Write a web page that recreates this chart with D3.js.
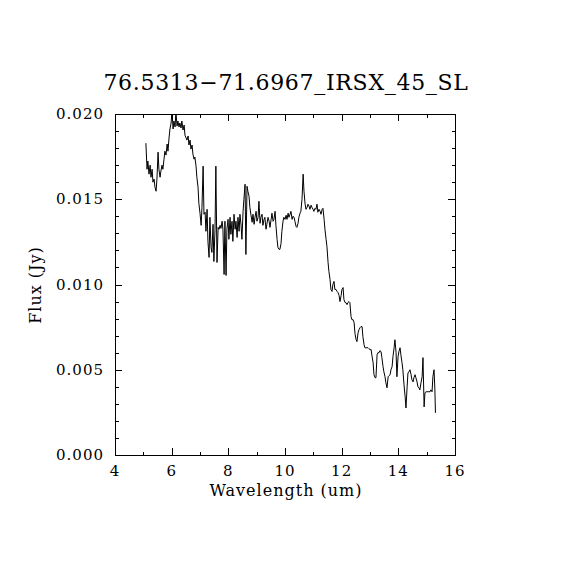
<!DOCTYPE html>
<html>
<head>
<meta charset="utf-8">
<script src="https://cdn.jsdelivr.net/npm/d3@7"></script>
<style>
  html, body { margin: 0; padding: 0; background: #fff; }
  text { font-family: "DejaVu Serif", "Liberation Serif", serif; fill: #000; }
</style>
</head>
<body>
<svg id="chart" width="570" height="570"></svg>
<script>
const title = "76.5313\u221271.6967_IRSX_45_SL";
const xLabel = "Wavelength (um)";
const yLabel = "Flux (Jy)";
const xTicks = [4, 6, 8, 10, 12, 14, 16];
const yTicks = [0.000, 0.005, 0.010, 0.015, 0.020];

const wavelength = [
5.09,5.13,5.16,5.20,5.24,5.27,5.31,5.34,5.38,5.41,5.45,5.48,5.52,5.55,5.59,5.62,5.66,5.69,5.73,5.76,
5.80,5.84,5.87,5.91,5.94,5.98,6.01,6.05,6.08,6.12,6.15,6.19,6.22,6.26,6.29,6.33,6.36,6.40,6.44,6.47,
6.51,6.54,6.58,6.61,6.65,6.68,6.72,6.75,6.79,6.82,6.86,6.89,6.93,6.96,7.00,7.04,7.07,7.11,7.14,7.18,
7.21,7.25,7.28,7.32,7.35,7.39,7.42,7.46,7.49,7.53,7.56,7.60,7.64,7.67,7.71,7.74,7.78,7.81,7.85,7.88,
7.92,7.95,7.99,8.02,8.06,8.09,8.13,8.16,8.20,8.24,8.27,8.31,8.34,8.38,8.41,8.45,8.48,8.52,8.55,8.59,
8.62,8.66,8.69,8.73,8.76,8.80,8.84,8.87,8.91,8.94,8.98,9.01,9.05,9.08,9.12,9.15,9.19,9.22,9.26,9.29,
9.33,9.36,9.40,9.44,9.47,9.51,9.54,9.58,9.61,9.65,9.68,9.72,9.75,9.79,9.82,9.86,9.89,9.93,9.96,10.00,
10.04,10.07,10.11,10.14,10.18,10.21,10.25,10.28,10.32,10.35,10.39,10.42,10.46,10.49,10.53,10.56,10.60,10.64,10.67,10.71,
10.74,10.78,10.81,10.85,10.88,10.92,10.95,10.99,11.02,11.06,11.09,11.13,11.16,11.20,11.24,11.27,11.31,11.34,11.38,11.41,
11.45,11.48,11.52,11.55,11.59,11.62,11.66,11.69,11.73,11.76,11.80,11.84,11.87,11.91,11.94,11.98,12.01,12.05,12.08,12.12,
12.15,12.19,12.22,12.26,12.29,12.33,12.36,12.40,12.44,12.47,12.51,12.54,12.58,12.61,12.65,12.68,12.72,12.75,12.79,12.82,
12.86,12.89,12.93,12.96,13.00,13.04,13.07,13.11,13.14,13.18,13.21,13.25,13.28,13.32,13.35,13.39,13.42,13.46,13.49,13.53,
13.56,13.60,13.64,13.67,13.71,13.74,13.78,13.81,13.85,13.88,13.92,13.95,13.99,14.02,14.06,14.09,14.13,14.16,14.20,14.24,
14.27,14.31,14.34,14.38,14.41,14.45,14.48,14.52,14.55,14.59,14.62,14.66,14.69,14.73,14.76,14.80,14.84,14.87,14.91,14.94,
14.98,15.01,15.05,15.08,15.12,15.15,15.19,15.22,15.26,15.29,15.31
];

const flux = [
0.01829,0.01676,0.01724,0.01647,0.01700,0.01629,0.01676,0.01600,0.01618,0.01571,0.01547,0.01618,0.01776,0.01676,0.01629,0.01665,0.01700,0.01676,0.01735,0.01782,
0.01759,0.01824,0.01782,0.01865,0.01912,0.01947,0.02018,0.01912,0.01959,0.01924,0.02012,0.01929,0.01959,0.01924,0.01947,0.01918,0.01959,0.01906,0.01935,0.01876,
0.01859,0.01847,0.01871,0.01818,0.01847,0.01794,0.01818,0.01765,0.01735,0.01747,0.01694,0.01629,0.01571,0.01476,0.01418,0.01347,0.01453,0.01694,0.01412,0.01424,
0.01312,0.01441,0.01253,0.01159,0.01394,0.01218,0.01188,0.01353,0.01135,0.01324,0.01694,0.01129,0.01335,0.01324,0.01347,0.01329,0.01371,0.01324,0.01059,0.01371,
0.01053,0.01324,0.01382,0.01265,0.01394,0.01294,0.01371,0.01253,0.01412,0.01324,0.01371,0.01276,0.01394,0.01312,0.01412,0.01347,0.01265,0.01429,0.01500,0.01588,
0.01176,0.01576,0.01547,0.01518,0.01453,0.01406,0.01365,0.01412,0.01353,0.01394,0.01429,0.01371,0.01394,0.01488,0.01359,0.01394,0.01412,0.01347,0.01382,0.01394,
0.01324,0.01353,0.01394,0.01371,0.01335,0.01382,0.01418,0.01371,0.01382,0.01429,0.01347,0.01265,0.01218,0.01206,0.01206,0.01241,0.01312,0.01371,0.01394,0.01382,
0.01406,0.01382,0.01418,0.01394,0.01412,0.01429,0.01382,0.01400,0.01394,0.01371,0.01341,0.01335,0.01359,0.01394,0.01418,0.01429,0.01500,0.01647,0.01547,0.01471,
0.01441,0.01453,0.01471,0.01459,0.01441,0.01465,0.01453,0.01441,0.01429,0.01447,0.01441,0.01471,0.01424,0.01441,0.01429,0.01412,0.01441,0.01447,0.01382,0.01324,
0.01265,0.01224,0.01129,0.01076,0.01029,0.00971,0.00959,0.01000,0.01018,0.00971,0.00971,0.00959,0.00953,0.00935,0.00900,0.00935,0.00971,0.00982,0.00912,0.00894,
0.00894,0.00882,0.00894,0.00900,0.00894,0.00812,0.00794,0.00794,0.00776,0.00712,0.00676,0.00665,0.00718,0.00735,0.00747,0.00753,0.00753,0.00694,0.00647,0.00629,
0.00629,0.00629,0.00629,0.00624,0.00618,0.00618,0.00582,0.00541,0.00471,0.00453,0.00453,0.00588,0.00600,0.00600,0.00612,0.00606,0.00571,0.00518,0.00488,0.00459,
0.00424,0.00394,0.00459,0.00465,0.00471,0.00500,0.00518,0.00576,0.00629,0.00676,0.00600,0.00459,0.00576,0.00606,0.00629,0.00588,0.00541,0.00500,0.00412,0.00341,
0.00276,0.00400,0.00482,0.00488,0.00500,0.00471,0.00441,0.00429,0.00453,0.00471,0.00453,0.00429,0.00400,0.00394,0.00382,0.00424,0.00459,0.00571,0.00282,0.00365,
0.00371,0.00371,0.00371,0.00371,0.00371,0.00382,0.00371,0.00459,0.00500,0.00382,0.00247
];

const W = 570, H = 570;
const mLeft = 115, mRight = 455, mTop = 114, mBottom = 455;

const svg = d3.select("#chart");
svg.append("rect").attr("width", W).attr("height", H).attr("fill", "#fff");

const x = d3.scaleLinear().domain([4, 16]).range([mLeft, mRight]);
const y = d3.scaleLinear().domain([0, 0.020]).range([mBottom, mTop]);

svg.append("defs").append("clipPath").attr("id", "clip")
  .append("rect").attr("x", mLeft).attr("y", mTop).attr("width", mRight - mLeft).attr("height", mBottom - mTop);

const pts = wavelength.map((w, i) => [w, flux[i]]);
const line = d3.line().x(d => x(d[0])).y(d => y(d[1]));
svg.append("path")
  .attr("d", line(pts))
  .attr("fill", "none")
  .attr("stroke", "#000")
  .attr("stroke-width", 1)
  .attr("clip-path", "url(#clip)");

const tickLen = 7, minorLen = 3.5;
const xMinor = d3.range(5, 16, 2);
const yMinor = d3.range(0, 21).map(d => d / 1000).filter(d => Math.round(d * 1000) % 5 !== 0);

const axisG = svg.append("g").attr("shape-rendering", "crispEdges");

function mkAxis(gen, tx, ty) {
  const g = axisG.append("g").attr("transform", `translate(${tx},${ty})`).call(gen);
  g.selectAll("text").remove();
  g.select(".domain").attr("stroke", "#000");
  g.selectAll("line").attr("stroke", "#000");
  return g;
}
mkAxis(d3.axisTop(x).tickValues(xTicks).tickSize(tickLen).tickSizeOuter(0), 0, mBottom);
mkAxis(d3.axisTop(x).tickValues(xMinor).tickSize(minorLen).tickSizeOuter(0), 0, mBottom);
mkAxis(d3.axisBottom(x).tickValues(xTicks).tickSize(tickLen).tickSizeOuter(0), 0, mTop);
mkAxis(d3.axisBottom(x).tickValues(xMinor).tickSize(minorLen).tickSizeOuter(0), 0, mTop);
mkAxis(d3.axisRight(y).tickValues(yTicks).tickSize(tickLen).tickSizeOuter(0), mLeft, 0);
mkAxis(d3.axisRight(y).tickValues(yMinor).tickSize(minorLen).tickSizeOuter(0), mLeft, 0);
mkAxis(d3.axisLeft(y).tickValues(yTicks).tickSize(tickLen).tickSizeOuter(0), mRight, 0);
mkAxis(d3.axisLeft(y).tickValues(yMinor).tickSize(minorLen).tickSizeOuter(0), mRight, 0);

const fs = 15;
svg.append("g").selectAll("text").data(xTicks).join("text")
  .attr("x", d => x(d)).attr("y", 476)
  .attr("text-anchor", "middle")
  .attr("font-size", fs).attr("letter-spacing", 1)
  .text(d => d);

const fmt = d3.format(".3f");
svg.append("g").selectAll("text").data(yTicks).join("text")
  .attr("x", 104).attr("y", d => y(d) + 5)
  .attr("text-anchor", "end")
  .attr("font-size", fs).attr("letter-spacing", 1)
  .text(d => fmt(d));

svg.append("text")
  .attr("x", 286).attr("y", 496)
  .attr("text-anchor", "middle")
  .attr("font-size", 16).attr("letter-spacing", 1)
  .text(xLabel);

svg.append("text")
  .attr("transform", `translate(41,285) rotate(-90)`)
  .attr("text-anchor", "middle")
  .attr("font-size", 16).attr("letter-spacing", 1)
  .text(yLabel);

svg.append("text")
  .attr("x", 286).attr("y", 90)
  .attr("text-anchor", "middle")
  .attr("font-size", 22).attr("letter-spacing", 0.7)
  .text(title);
</script>
</body>
</html>
